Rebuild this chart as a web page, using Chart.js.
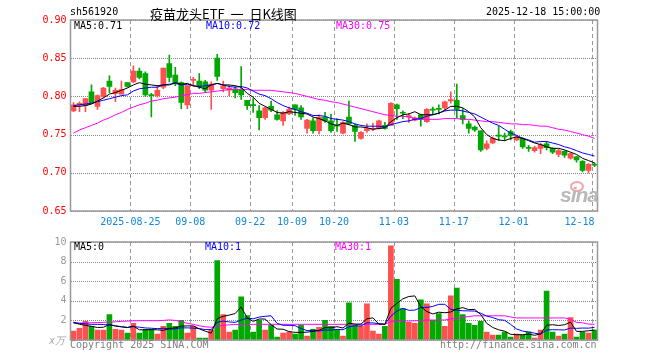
<!DOCTYPE html>
<html>
<head>
<meta charset="utf-8">
<script src="https://cdn.jsdelivr.net/npm/chart.js@4.4.1/dist/chart.umd.min.js"></script>
<style>
  body { margin: 0; background: #fff; width: 660px; height: 360px; overflow: hidden; position: relative;
         font-family: "DejaVu Sans Mono", monospace; font-size: 10px; }
  #kWrap { position: absolute; left: 0; top: 0; width: 660px; height: 232px; }
  #vWrap { position: absolute; left: 0; top: 232px; width: 660px; height: 128px; }
  .t { position: absolute; white-space: pre; line-height: 12px; }
  .logo { position: absolute; left: 560px; top: 183px; font: italic bold 21px "Liberation Sans", Arial, sans-serif; color: #b8b8b8; letter-spacing: -1px; }
  .eye { position: absolute; left: 570px; top: 181px; width: 10px; height: 7px; border-radius: 50%; border: 2px solid #f2a8a8; }
</style>
</head>
<body>
<div id="kWrap"><canvas id="kChart"></canvas></div>
<div id="vWrap"><canvas id="vChart"></canvas></div>

<div class="t" style="left:70px;top:6px;color:#000">sh561920</div>
<div class="t" style="left:150px;top:6px;font:13px 'Noto Sans CJK SC',sans-serif;line-height:15px;word-spacing:3px">疫苗龙头ETF 一 日K线图</div>
<div class="t" style="left:486px;top:6px;color:#000">2025-12-18 15:00:00</div>

<div class="t" style="left:74px;top:20px;color:#000">MA5:0.71</div>
<div class="t" style="left:206px;top:20px;color:#0000ff">MA10:0.72</div>
<div class="t" style="left:336px;top:20px;color:#ff00ff">MA30:0.75</div>

<div class="t" style="left:74px;top:241px;color:#000">MA5:0</div>
<div class="t" style="left:205px;top:241px;color:#0000ff">MA10:1</div>
<div class="t" style="left:335px;top:241px;color:#ff00ff">MA30:1</div>

<div class="t" style="left:49px;top:335px;color:#aaa;font-style:italic">x万</div>
<div class="t" style="left:70px;top:339px;color:#808080">Copyright 2025 SINA.COM</div>
<div class="t" style="left:440px;top:339px;color:#808080">http://finance.sina.com.cn</div>

<div class="eye"></div>
<div class="logo">sina</div>

<script>
// 交易日 2025-08-11 ~ 2025-12-18
const days = [
  "08-11","08-12","08-13","08-14","08-15","08-18","08-19","08-20","08-21","08-22",
  "08-25","08-26","08-27","08-28","08-29",
  "09-01","09-02","09-03","09-04","09-05","09-08","09-09","09-10","09-11","09-12",
  "09-15","09-16","09-17","09-18","09-19","09-22","09-23","09-24","09-25","09-26","09-29","09-30",
  "10-09","10-10","10-13","10-14","10-15","10-16","10-17","10-20","10-21","10-22","10-23","10-24",
  "10-27","10-28","10-29","10-30","10-31",
  "11-03","11-04","11-05","11-06","11-07","11-10","11-11","11-12","11-13","11-14",
  "11-17","11-18","11-19","11-20","11-21","11-24","11-25","11-26","11-27","11-28",
  "12-01","12-02","12-03","12-04","12-05","12-08","12-09","12-10","12-11","12-12",
  "12-15","12-16","12-17","12-18"
];
const tickDays = ["08-25", "09-08", "09-22", "10-09", "10-20", "11-03", "11-17", "12-01", "12-18"];
const tickText = ["2025-08-25", "09-08", "09-22", "10-09", "10-20", "11-03", "11-17", "12-01", "12-18    "];

const opens = [
  0.781,0.789,0.788,0.806,0.787,0.800,0.820,0.804,0.803,0.818,
  0.819,0.833,0.830,0.802,0.801,0.812,0.843,0.828,0.818,0.789,
  0.821,0.820,0.819,0.808,0.850,0.810,0.808,0.810,0.808,0.795,
  0.789,0.781,0.772,0.787,0.776,0.768,0.777,0.789,0.785,0.758,
  0.768,0.755,0.773,0.768,0.762,0.752,0.773,0.762,0.745,0.755,
  0.757,0.758,0.762,0.762,0.789,0.779,0.773,0.769,0.776,0.767,
  0.783,0.784,0.785,0.794,0.795,0.775,0.764,0.760,0.755,0.732,
  0.739,0.749,0.748,0.754,0.743,0.745,0.733,0.729,0.732,0.738,
  0.732,0.724,0.728,0.719,0.721,0.715,0.703,0.711
];
const highs = [
  0.792,0.793,0.797,0.815,0.802,0.812,0.827,0.811,0.820,0.818,
  0.840,0.837,0.832,0.804,0.814,0.837,0.854,0.838,0.819,0.814,
  0.825,0.830,0.821,0.819,0.855,0.820,0.814,0.813,0.839,0.795,
  0.797,0.788,0.786,0.794,0.781,0.780,0.786,0.789,0.788,0.770,
  0.772,0.776,0.779,0.777,0.771,0.767,0.794,0.764,0.754,0.764,
  0.765,0.769,0.766,0.792,0.790,0.781,0.778,0.773,0.777,0.784,
  0.786,0.789,0.794,0.806,0.816,0.784,0.768,0.761,0.755,0.742,
  0.747,0.761,0.752,0.756,0.749,0.746,0.736,0.735,0.739,0.741,
  0.733,0.731,0.729,0.726,0.722,0.716,0.712,0.713
];
const lows = [
  0.780,0.780,0.780,0.790,0.783,0.798,0.805,0.793,0.803,0.812,
  0.818,0.823,0.800,0.773,0.799,0.810,0.819,0.814,0.784,0.784,
  0.813,0.810,0.805,0.783,0.821,0.806,0.801,0.798,0.796,0.783,
  0.779,0.756,0.770,0.780,0.769,0.762,0.776,0.775,0.770,0.752,
  0.752,0.751,0.766,0.753,0.754,0.751,0.763,0.741,0.744,0.753,
  0.755,0.757,0.757,0.762,0.770,0.771,0.766,0.768,0.761,0.766,
  0.776,0.777,0.781,0.791,0.772,0.764,0.752,0.754,0.728,0.730,
  0.738,0.742,0.742,0.743,0.742,0.732,0.728,0.727,0.725,0.730,
  0.725,0.721,0.720,0.718,0.714,0.701,0.700,0.708
];
const closes = [
  0.789,0.791,0.797,0.791,0.801,0.811,0.813,0.808,0.809,0.813,
  0.833,0.825,0.802,0.801,0.808,0.837,0.825,0.818,0.792,0.814,
  0.822,0.813,0.808,0.816,0.826,0.814,0.811,0.805,0.802,0.788,
  0.788,0.772,0.785,0.782,0.770,0.779,0.783,0.783,0.773,0.769,
  0.755,0.773,0.768,0.755,0.761,0.766,0.764,0.754,0.753,0.758,
  0.758,0.768,0.758,0.791,0.784,0.778,0.775,0.772,0.770,0.783,
  0.782,0.783,0.793,0.796,0.783,0.770,0.758,0.756,0.730,0.738,
  0.745,0.748,0.747,0.749,0.747,0.734,0.732,0.733,0.737,0.733,
  0.727,0.729,0.723,0.725,0.717,0.703,0.711,0.710
];
const ma5 = [
  0.787,0.787,0.788,0.790,0.794,0.798,0.803,0.805,0.808,0.811,
  0.815,0.818,0.816,0.815,0.814,0.815,0.815,0.818,0.816,0.817,
  0.814,0.812,0.810,0.815,0.817,0.815,0.815,0.814,0.812,0.804,
  0.799,0.791,0.787,0.783,0.779,0.778,0.780,0.779,0.778,0.777,
  0.773,0.771,0.768,0.764,0.762,0.765,0.763,0.760,0.760,0.759,
  0.757,0.758,0.759,0.767,0.772,0.776,0.777,0.780,0.776,0.776,
  0.776,0.778,0.782,0.787,0.787,0.785,0.780,0.773,0.759,0.750,
  0.745,0.743,0.742,0.745,0.747,0.745,0.742,0.739,0.737,0.734,
  0.732,0.732,0.730,0.727,0.724,0.719,0.716,0.713
];
const ma10 = [
  0.788,0.789,0.790,0.791,0.793,0.795,0.797,0.799,0.801,0.802,
  0.807,0.810,0.811,0.812,0.812,0.815,0.816,0.817,0.815,0.816,
  0.814,0.813,0.814,0.815,0.817,0.815,0.813,0.812,0.813,0.811,
  0.807,0.803,0.801,0.797,0.792,0.788,0.785,0.783,0.780,0.778,
  0.775,0.775,0.774,0.771,0.770,0.769,0.767,0.764,0.762,0.761,
  0.761,0.761,0.760,0.763,0.765,0.767,0.768,0.770,0.771,0.774,
  0.776,0.778,0.781,0.782,0.782,0.781,0.779,0.777,0.773,0.769,
  0.765,0.762,0.757,0.752,0.749,0.745,0.743,0.740,0.741,0.741,
  0.739,0.737,0.734,0.732,0.729,0.726,0.724,0.722
];
const ma30 = [
  0.752,0.756,0.759,0.762,0.765,0.769,0.772,0.776,0.779,0.783,
  0.786,0.789,0.791,0.794,0.795,0.797,0.798,0.799,0.801,0.802,
  0.804,0.804,0.805,0.806,0.807,0.808,0.809,0.809,0.809,0.809,
  0.808,0.808,0.808,0.808,0.807,0.806,0.805,0.804,0.802,0.800,
  0.798,0.796,0.795,0.793,0.792,0.790,0.788,0.786,0.784,0.782,
  0.780,0.778,0.776,0.775,0.774,0.774,0.773,0.771,0.770,0.770,
  0.770,0.770,0.771,0.771,0.771,0.770,0.770,0.769,0.768,0.767,
  0.767,0.766,0.765,0.764,0.764,0.763,0.763,0.762,0.761,0.761,
  0.759,0.757,0.756,0.754,0.752,0.750,0.748,0.745
];

// 成交量(万)
const volumes = [
  0.9,1.2,1.9,1.4,1.0,1.0,2.6,1.1,1.0,0.7,
  1.7,0.7,1.1,1.1,0.6,1.4,1.7,1.4,2.0,0.7,
  1.4,0.2,0.2,1.0,8.1,2.6,0.8,1.0,4.4,2.5,
  0.8,2.0,1.0,1.5,0.3,0.7,0.8,0.6,1.5,0.4,
  1.1,1.3,2.0,1.4,1.0,0.4,3.8,1.5,1.4,3.7,
  0.9,0.6,1.4,9.6,6.2,3.2,1.8,1.7,4.1,3.7,
  2.0,2.7,1.4,4.5,5.3,2.6,1.7,1.5,1.9,0.8,
  0.5,0.5,0.8,0.3,0.6,0.5,0.8,0.2,1.0,5.0,
  0.8,0.4,0.6,2.3,0.3,0.8,0.7,1.0
];
const vma5 = [
  1.80,1.60,1.50,1.40,1.28,1.30,1.58,1.42,1.34,1.28,
  1.42,1.04,1.04,1.06,1.04,0.98,1.18,1.24,1.42,1.44,
  1.44,1.14,0.90,0.70,2.18,2.42,2.54,2.70,3.38,2.26,
  1.90,2.14,2.14,1.56,1.12,1.10,0.86,0.78,0.78,0.80,
  0.88,0.98,1.26,1.24,1.36,1.22,1.72,1.62,1.62,2.16,
  2.26,1.62,1.60,3.24,3.74,4.20,4.44,4.50,3.40,2.90,
  2.66,2.84,2.78,2.86,3.18,3.30,3.10,3.12,2.60,1.70,
  1.28,1.04,0.90,0.58,0.54,0.54,0.60,0.48,0.62,1.50,
  1.56,1.48,1.56,1.82,0.88,0.88,0.94,1.02
];
const vma10 = [
  1.80,1.70,1.65,1.60,1.60,1.58,1.52,1.45,1.36,1.28,
  1.36,1.31,1.23,1.20,1.16,1.20,1.11,1.14,1.24,1.24,
  1.21,1.16,1.07,1.06,1.81,1.93,1.84,1.80,2.04,2.22,
  2.16,2.34,2.42,2.47,1.69,1.50,1.50,1.46,1.17,0.96,
  0.99,0.92,1.02,1.01,1.08,1.05,1.35,1.44,1.43,1.76,
  1.74,1.67,1.61,2.43,2.95,3.23,3.03,3.05,3.32,3.32,
  3.43,3.64,3.64,3.13,3.04,2.98,2.97,2.95,2.73,2.44,
  2.29,2.07,2.01,1.59,1.12,0.91,0.82,0.69,0.60,1.02,
  1.05,1.04,1.02,1.22,1.19,1.22,1.21,1.29
];
const vma30 = [
  1.70,1.72,1.74,1.76,1.78,1.80,1.83,1.86,1.90,1.93,
  1.96,1.97,1.97,1.97,1.97,2.00,2.05,2.00,1.87,1.70,
  1.60,1.45,1.35,1.30,1.40,1.50,1.55,1.58,1.60,1.60,
  1.60,1.60,1.60,1.60,1.60,1.60,1.60,1.60,1.60,1.60,
  1.60,1.60,1.60,1.60,1.60,1.60,1.60,1.60,1.60,1.60,
  1.60,1.60,1.60,1.90,1.94,1.94,1.94,1.96,2.00,2.04,
  2.04,2.04,2.04,2.15,2.20,2.30,2.40,2.47,2.47,2.47,
  2.47,2.47,2.47,2.35,2.25,2.25,2.25,2.25,2.25,2.25,
  2.25,2.25,2.25,2.10,1.80,1.75,1.62,1.60
];

const UP = "#ff5050";
const DOWN = "#00a800";
const MONO = "'DejaVu Sans Mono', monospace";

const candleColors = closes.map((c, i) => (c >= opens[i] ? UP : DOWN));
const tickIdx = tickDays.map((d) => days.indexOf(d));

// 外框
const framePlugin = {
  id: "frame",
  afterDraw(chart) {
    const { ctx, chartArea: a } = chart;
    ctx.save();
    ctx.strokeStyle = "#999";
    ctx.lineWidth = 1.5;
    ctx.strokeRect(a.left, a.top, a.right - a.left, a.bottom - a.top);
    ctx.restore();
  },
};

// 网格：水平点线按 y 刻度，竖直虚线按日期分隔（类目左边界）
const gridPlugin = {
  id: "dotGrid",
  beforeDatasetsDraw(chart) {
    const { ctx, chartArea: a, scales } = chart;
    const { x, y } = scales;
    const half = (x.getPixelForValue(1) - x.getPixelForValue(0)) / 2;
    ctx.save();
    ctx.fillStyle = "#888";
    y.ticks.forEach((t) => {
      const py = Math.round(y.getPixelForValue(t.value));
      for (let px = Math.ceil(a.left); px < a.right; px += 2) ctx.fillRect(px, py, 1, 1);
    });
    ctx.fillStyle = "#999";
    tickIdx.forEach((idx) => {
      const px = Math.round(x.getPixelForValue(idx) - half);
      for (let py = Math.ceil(a.top); py < a.bottom; py += 7) {
        ctx.fillRect(px, py, 1, Math.min(4, a.bottom - py));
      }
    });
    ctx.restore();
  },
};

function xScale(showLabels) {
  return {
    type: "category",
    offset: true,
    grid: { display: false, drawTicks: false },
    border: { display: false },
    ticks: {
      display: showLabels,
      autoSkip: false,
      maxRotation: 0,
      padding: 5,
      labelOffset: -3,
      color: "#1188dd",
      font: { family: MONO, size: 10 },
      callback: (v, i) => {
        const k = tickIdx.indexOf(i);
        return k >= 0 ? tickText[k] : "";
      },
    },
    afterFit: (s) => { s.height = showLabels ? 21 : 0; },
  };
}

function yScale(min, max, step, color, fmt) {
  return {
    min,
    max,
    ticks: { stepSize: step, padding: 4, color, font: { family: MONO, size: 10 }, callback: fmt },
    grid: { display: false, drawTicks: false },
    border: { display: false },
    afterFit: (s) => { s.width = 70.5; },
  };
}

function lineSet(data, color) {
  return { type: "line", data, borderColor: color, borderWidth: 1, pointRadius: 0, tension: 0, order: 0 };
}

new Chart(document.getElementById("kChart"), {
  data: {
    labels: days,
    datasets: [
      lineSet(ma5, "#000"),
      lineSet(ma10, "#0000ff"),
      lineSet(ma30, "#ff00ff"),
      {
        type: "bar",
        data: opens.map((o, i) => [o, closes[i]]),
        backgroundColor: candleColors,
        barThickness: 5,
        minBarLength: 1,
        grouped: false,
        order: 1,
      },
      {
        type: "bar",
        data: lows.map((l, i) => [l, highs[i]]),
        backgroundColor: candleColors,
        barThickness: 1,
        grouped: false,
        order: 2,
      },
    ],
  },
  options: {
    responsive: true,
    maintainAspectRatio: false,
    animation: false,
    layout: { padding: { left: 0, right: 62.5, top: 20, bottom: 0 } },
    plugins: { legend: { display: false }, tooltip: { enabled: false } },
    scales: {
      x: xScale(true),
      y: yScale(0.65, 0.9, 0.05, "#ff0000", (v) => v.toFixed(2)),
    },
  },
  plugins: [gridPlugin, framePlugin],
});

new Chart(document.getElementById("vChart"), {
  data: {
    labels: days,
    datasets: [
      lineSet(vma5, "#000"),
      lineSet(vma10, "#0000ff"),
      lineSet(vma30, "#ff00ff"),
      {
        type: "bar",
        data: volumes,
        backgroundColor: candleColors,
        barThickness: 5,
        grouped: false,
        order: 1,
      },
    ],
  },
  options: {
    responsive: true,
    maintainAspectRatio: false,
    animation: false,
    layout: { padding: { left: 0, right: 62.5, top: 9, bottom: 20 } },
    plugins: { legend: { display: false }, tooltip: { enabled: false } },
    scales: {
      x: xScale(false),
      y: yScale(0, 10, 2, "#999", (v) => (v === 0 ? "" : v)),
    },
  },
  plugins: [gridPlugin, framePlugin],
});
</script>
</body>
</html>
